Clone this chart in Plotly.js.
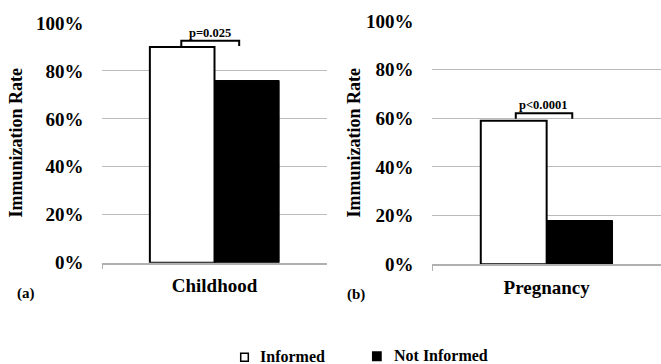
<!DOCTYPE html>
<html>
<head>
<meta charset="utf-8">
<script src="https://cdn.plot.ly/plotly-3.0.1.min.js"></script>
</head>
<body style="margin:0;padding:0;background:#fff">
<div id="chart" style="width:661px;height:364px"></div>
<script>
// ---- data ----
var seriesNames = ['Informed', 'Not Informed'];
var categoriesA = ['Childhood'];
var categoriesB = ['Pregnancy'];
var informed = [0.90, 0.59];      // Childhood, Pregnancy
var notInformed = [0.76, 0.18];   // Childhood, Pregnancy
var pValues = ['p=0.025', 'p<0.0001'];
var panelLabels = ['(a)', '(b)'];
var yTickVals = [0, 0.2, 0.4, 0.6, 0.8, 1.0];

var FONT = 'Liberation Serif';
var W = 661, H = 364;

function fnt(size) { return {family: FONT, size: size, color: '#000000', weight: 'bold'}; }

var traces = [
  {type: 'bar', name: seriesNames[0], x: categoriesA, y: [informed[0]], xaxis: 'x', yaxis: 'y',
   marker: {color: '#ffffff', line: {color: '#000000', width: 2}}, showlegend: false},
  {type: 'bar', name: seriesNames[1], x: categoriesA, y: [notInformed[0]], xaxis: 'x', yaxis: 'y',
   marker: {color: '#000000', line: {color: '#000000', width: 1}}, showlegend: false},
  {type: 'bar', name: seriesNames[0], x: categoriesB, y: [informed[1]], xaxis: 'x2', yaxis: 'y2',
   marker: {color: '#ffffff', line: {color: '#000000', width: 2}}, showlegend: false},
  {type: 'bar', name: seriesNames[1], x: categoriesB, y: [notInformed[1]], xaxis: 'x2', yaxis: 'y2',
   marker: {color: '#000000', line: {color: '#000000', width: 1}}, showlegend: false}
];

function yAxis(domain, anchor, standoff) {
  return {
    domain: domain, anchor: anchor, range: [0, 1.0], tickvals: yTickVals, tickformat: '.0%',
    showgrid: true, gridcolor: '#bcbcbc', gridwidth: 1, zeroline: false, showline: false,
    ticks: 'outside', ticklen: 14, tickcolor: 'rgba(0,0,0,0)',
    tickfont: fnt(19),
    title: {text: 'Immunization Rate', font: fnt(18), standoff: standoff},
    automargin: false
  };
}
function xAxis(domain, anchor) {
  return {
    domain: domain, anchor: anchor, type: 'category', range: [-0.5, 0.5],
    showline: true, linecolor: '#b0b0b0', linewidth: 1.5, showgrid: false, zeroline: false,
    ticks: 'outside', tickson: 'boundaries', ticklen: 5, tickcolor: '#b0b0b0', tickwidth: 1,
    ticklabelstandoff: 5,
    tickfont: fnt(19),
    automargin: false
  };
}

var shapes = [], annotations = [];
var brackets = [
  {xr: 'x', yr: 'y', x0: -0.148, x1: 0.110, top: informed[0] + 0.026, bot: informed[0] + 0.004, text: pValues[0], tx: -0.018},
  {xr: 'x2', yr: 'y2', x0: -0.135, x1: 0.112, top: informed[1] + 0.031, bot: informed[1] + 0.008, text: pValues[1], tx: -0.014}
];
brackets.forEach(function (b) {
  shapes.push({type: 'path', xref: b.xr, yref: b.yr,
    path: 'M' + b.x0 + ',' + b.bot + ' L' + b.x0 + ',' + b.top + ' L' + b.x1 + ',' + b.top + ' L' + b.x1 + ',' + b.bot,
    line: {color: '#000', width: 2}});
  annotations.push({xref: b.xr, yref: b.yr, x: b.tx, y: b.top, yanchor: 'bottom', xanchor: 'center',
    text: b.text, showarrow: false, font: fnt(12.5), yshift: -1});
});
annotations.push({xref: 'paper', yref: 'paper', x: 25.5 / W, y: 1 - 293 / H, xanchor: 'center', yanchor: 'middle',
  text: panelLabels[0], showarrow: false, font: fnt(15)});
annotations.push({xref: 'paper', yref: 'paper', x: 355.5 / W, y: 1 - 294 / H, xanchor: 'center', yanchor: 'middle',
  text: panelLabels[1], showarrow: false, font: fnt(15)});

// legend (drawn as annotations + square markers)
var legendItems = [
  {name: seriesNames[0], fill: '#ffffff', mx0: 240.7, mx1: 248.3, my0: 353.3, my1: 361.3, tx: 258, ty: 356},
  {name: seriesNames[1], fill: '#000000', mx0: 372.7, mx1: 381, my0: 352, my1: 360.5, tx: 392, ty: 355}
];
legendItems.forEach(function (it) {
  shapes.push({type: 'rect', xref: 'paper', yref: 'paper', x0: it.mx0 / W, x1: it.mx1 / W,
    y0: 1 - it.my1 / H, y1: 1 - it.my0 / H, fillcolor: it.fill, line: {color: '#000', width: 1.5}});
  annotations.push({xref: 'paper', yref: 'paper', x: it.tx / W, y: 1 - it.ty / H, xanchor: 'left', yanchor: 'middle',
    text: it.name, showarrow: false, font: fnt(16)});
});

var layout = {
  width: W, height: H,
  margin: {l: 0, r: 0, t: 0, b: 0},
  paper_bgcolor: '#ffffff', plot_bgcolor: '#ffffff',
  barmode: 'group', bargap: 0.424, bargroupgap: 0,
  xaxis: xAxis([102.3 / W, 326.7 / W], 'y'),
  yaxis: yAxis([1 - 262.7 / H, 1 - 23 / H], 'x', 8),
  xaxis2: xAxis([432.3 / W, 1], 'y2'),
  yaxis2: yAxis([1 - 264.3 / H, 1 - 21 / H], 'x2', 0),
  showlegend: false,
  shapes: shapes, annotations: annotations
};

Plotly.newPlot('chart', traces, layout, {displayModeBar: false});
</script>
</body>
</html>
